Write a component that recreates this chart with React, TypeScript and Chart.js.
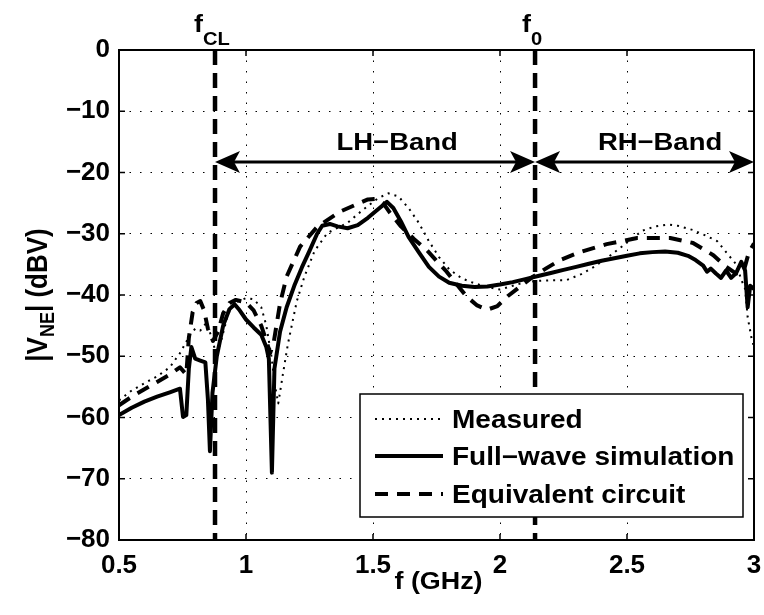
import React, { useEffect, useRef } from "react";
import { Chart, registerables } from "chart.js";

Chart.register(...registerables);

// ---------------- data ----------------
const xMeasured = [0.5, 0.55, 0.6, 0.65, 0.7, 0.74, 0.76, 0.78, 0.8, 0.82, 0.845, 0.865, 0.885, 0.905, 0.93, 0.96, 1.0, 1.03, 1.06, 1.08, 1.1, 1.115, 1.127, 1.145, 1.165, 1.2, 1.23, 1.27, 1.32, 1.4, 1.46, 1.52, 1.56, 1.6, 1.64, 1.68, 1.72, 1.76, 1.8, 1.85, 1.9, 1.95, 2.0, 2.05, 2.1, 2.15, 2.2, 2.26, 2.32, 2.37, 2.42, 2.47, 2.52, 2.56, 2.61, 2.66, 2.7, 2.76, 2.81, 2.855, 2.9, 2.93, 2.95, 2.965, 2.975, 2.99, 3.0];
const yMeasured = [-57.2, -55.6, -54.4, -53.3, -51.8, -49.5, -48, -46.5, -45.5, -45.8, -44.5, -47, -50, -47, -43, -41.2, -40.5, -40.7, -42, -45, -50, -55, -57.7, -53, -48, -41, -37, -32.8, -29.9, -28.2, -26.1, -24.2, -23.4, -23.9, -25.8, -28.2, -31.2, -33.8, -35.8, -37.3, -38.1, -38.7, -39.1, -38.5, -37.9, -37.7, -37.6, -37.6, -36.6, -35.4, -34, -32.4, -30.8, -29.5, -28.8, -28.5, -28.7, -29.4, -30.3, -31.2, -33.5, -35, -37.5, -39, -43.6, -47, -48.5];

const xFullWave = [0.5, 0.55, 0.6, 0.65, 0.7, 0.74, 0.752, 0.765, 0.775, 0.785, 0.8, 0.82, 0.84, 0.85, 0.858, 0.868, 0.885, 0.91, 0.935, 0.955, 0.975, 1.0, 1.03, 1.06, 1.08, 1.09, 1.102, 1.112, 1.134, 1.16, 1.19, 1.22, 1.25, 1.28, 1.3, 1.33, 1.36, 1.4, 1.44, 1.48, 1.52, 1.555, 1.58, 1.61, 1.64, 1.68, 1.72, 1.76, 1.8, 1.85, 1.9, 1.95, 2.0, 2.05, 2.1, 2.15, 2.2, 2.25, 2.3, 2.35, 2.4, 2.45, 2.5, 2.55, 2.6, 2.65, 2.7, 2.74, 2.77, 2.8, 2.815, 2.83, 2.85, 2.87, 2.89, 2.91, 2.93, 2.95, 2.965, 2.975, 2.985, 3.0];
const yFullWave = [-59.6, -58.4, -57.4, -56.6, -55.9, -55.3, -59.9, -59.6, -52, -48.5, -50.4, -50.7, -51, -57, -65.5, -56, -50, -45, -42.3, -41.5, -42.5, -44, -45.3, -46.5, -48.5, -50.4, -69, -52, -46, -42, -38.5, -35.5, -32.8, -30, -28.7, -28.4, -28.8, -29.1, -28.6, -27.4, -26, -24.8, -25.8, -28, -30.5, -33, -35.4, -37, -38, -38.5, -38.7, -38.6, -38.3, -37.9, -37.4, -36.9, -36.4, -35.9, -35.4, -34.9, -34.4, -34, -33.6, -33.2, -33, -32.9, -33.1, -33.6, -34.3, -35.2, -36.2, -35.7, -36.5, -37.2, -36, -37.2, -36.4, -34.6, -36, -42, -38.5, -39];

const xCircuit = [0.5, 0.55, 0.6, 0.65, 0.7, 0.74, 0.765, 0.775, 0.79, 0.805, 0.82, 0.835, 0.85, 0.87, 0.89, 0.91, 0.935, 0.96, 1.0, 1.03, 1.06, 1.08, 1.095, 1.11, 1.134, 1.16, 1.213, 1.28, 1.37, 1.43, 1.48, 1.515, 1.54, 1.567, 1.61, 1.66, 1.71, 1.75, 1.79, 1.83, 1.87, 1.91, 1.95, 1.99, 2.03, 2.08, 2.13, 2.18, 2.236, 2.315, 2.42, 2.54, 2.67, 2.76, 2.84, 2.89, 2.93, 2.96, 2.98, 3.0];
const yCircuit = [-58, -56.6, -55.4, -54.2, -53, -51.8, -53, -47, -42.8, -41.3, -41, -42.5, -45.5, -47.5, -46, -43, -41.3, -40.8, -41.2, -42.5, -45, -47.5, -49.5, -47.5, -41.4, -37, -32.1, -28.9, -26.4, -25.3, -24.4, -24.3, -25, -26.6, -28.8, -30.8, -32.6, -34.4, -36.2, -38.3, -40.3, -41.7, -42.4, -41.8, -40.2, -38.6, -37, -35.7, -34.3, -33, -31.7, -30.7, -30.7, -31.5, -33.5, -35.4, -36.5, -36, -33, -31.6];

const seriesNames = ["Measured", "Full\u2212wave simulation", "Equivalent circuit"];

const xTicks = [0.5, 1, 1.5, 2, 2.5, 3];
const xTickLabels = ["0.5", "1", "1.5", "2", "2.5", "3"];
const yTicks = [0, -10, -20, -30, -40, -50, -60, -70, -80];
const yTickLabels = ["0", "\u221210", "\u221220", "\u221230", "\u221240", "\u221250", "\u221260", "\u221270", "\u221280"];

const xTitle = "f (GHz)";
const yTitleParts = ["|V", "NE", "| (dBV)"];

const fCL = 0.878;
const f0 = 2.138;
const fEnd = 3.0;
const bandArrowLevel = -18.3;
const bandLabels = ["LH\u2212Band", "RH\u2212Band"];
const bandLabelX = [1.595, 2.63];
const bandLabelLevel = -16.3;
const freqMarkerLabels = [["f", "CL"], ["f", "0"]];

// ---------------- helpers ----------------
const FONT = '"Liberation Sans", Arial, Helvetica, sans-serif';
const SX = 1.12; // horizontal text stretch

const pts = (xs: number[], ys: number[]) => xs.map((x, i) => ({ x, y: ys[i] }));

function setFont(ctx: CanvasRenderingContext2D, size: number) {
  ctx.font = `bold ${size}px ${FONT}`;
}

function textW(ctx: CanvasRenderingContext2D, s: string, size: number) {
  setFont(ctx, size);
  return ctx.measureText(s).width * SX;
}

function drawText(ctx: CanvasRenderingContext2D, s: string, x: number, y: number, size: number, align = "left") {
  const w = textW(ctx, s, size);
  const x0 = align === "center" ? x - w / 2 : align === "right" ? x - w : x;
  ctx.save();
  setFont(ctx, size);
  ctx.translate(x0, y);
  ctx.scale(SX, 1);
  ctx.textAlign = "left";
  ctx.textBaseline = "alphabetic";
  ctx.fillStyle = "#000";
  ctx.fillText(s, 0, 0);
  ctx.restore();
  return w;
}

function arrowHead(ctx: CanvasRenderingContext2D, tipX: number, y: number, dir: number) {
  const L = 25, W = 11, N = 19;
  ctx.beginPath();
  ctx.moveTo(tipX, y);
  ctx.lineTo(tipX - dir * L, y - W);
  ctx.lineTo(tipX - dir * N, y);
  ctx.lineTo(tipX - dir * L, y + W);
  ctx.closePath();
  ctx.fill();
}

function doubleArrow(ctx: CanvasRenderingContext2D, x1: number, x2: number, y: number) {
  ctx.save();
  ctx.strokeStyle = "#000";
  ctx.fillStyle = "#000";
  ctx.lineWidth = 3;
  ctx.setLineDash([]);
  ctx.beginPath();
  ctx.moveTo(x1 + 10, y);
  ctx.lineTo(x2 - 10, y);
  ctx.stroke();
  arrowHead(ctx, x1, y, -1);
  arrowHead(ctx, x2, y, 1);
  ctx.restore();
}

const annotPlugin = {
  id: "annotations",
  afterDraw(chart: any) {
    const ctx: CanvasRenderingContext2D = chart.ctx;
    const a = chart.chartArea;
    const xs = chart.scales.x;
    const ys = chart.scales.y;
    ctx.save();

    // inward tick marks on all four sides
    ctx.strokeStyle = "#000";
    ctx.lineWidth = 1.5;
    ctx.setLineDash([]);
    const tl = 6;
    ctx.beginPath();
    xTicks.forEach((v) => {
      const px = xs.getPixelForValue(v);
      ctx.moveTo(px, a.bottom); ctx.lineTo(px, a.bottom - tl);
      ctx.moveTo(px, a.top); ctx.lineTo(px, a.top + tl);
    });
    yTicks.forEach((v) => {
      const py = ys.getPixelForValue(v);
      ctx.moveTo(a.left, py); ctx.lineTo(a.left + tl, py);
      ctx.moveTo(a.right, py); ctx.lineTo(a.right - tl, py);
    });
    ctx.stroke();

    // vertical dashed frequency markers
    const markers = [fCL, f0];
    ctx.lineWidth = 4.5;
    ctx.setLineDash([15, 8]);
    markers.forEach((f) => {
      const px = xs.getPixelForValue(f);
      ctx.beginPath();
      ctx.moveTo(px, a.top);
      ctx.lineTo(px, a.bottom);
      ctx.stroke();
    });
    ctx.setLineDash([]);

    // marker labels f_CL, f_0
    markers.forEach((f, i) => {
      const px = xs.getPixelForValue(f);
      const [main, sub] = freqMarkerLabels[i];
      const w = textW(ctx, main, 24) + textW(ctx, sub, 18);
      let x = px - w / 2 - 3;
      x += drawText(ctx, main, x, a.top - 18, 24);
      drawText(ctx, sub, x, a.top - 5, 18);
    });

    // band arrows
    const yA = ys.getPixelForValue(bandArrowLevel);
    doubleArrow(ctx, xs.getPixelForValue(fCL), xs.getPixelForValue(f0), yA);
    doubleArrow(ctx, xs.getPixelForValue(f0), xs.getPixelForValue(fEnd), yA);
    bandLabels.forEach((s, i) => {
      drawText(ctx, s, xs.getPixelForValue(bandLabelX[i]), ys.getPixelForValue(bandLabelLevel), 24.5, "center");
    });

    // axes box
    ctx.strokeStyle = "#000";
    ctx.lineWidth = 2;
    ctx.strokeRect(a.left, a.top, a.right - a.left, a.bottom - a.top);

    // x title
    drawText(ctx, xTitle, (a.left + a.right) / 2 + 2, a.bottom + 49, 24, "center");

    // y title (rotated, with subscript)
    ctx.save();
    const cy = (a.top + a.bottom) / 2;
    ctx.translate(a.left - 72, cy);
    ctx.scale(SX, 1);
    ctx.rotate(-Math.PI / 2);
    ctx.fillStyle = "#000";
    ctx.textBaseline = "alphabetic";
    ctx.textAlign = "left";
    const sizes = [26, 18, 26];
    const offs = [0, 6, 0];
    let tw = 0;
    yTitleParts.forEach((p, i) => { setFont(ctx, sizes[i]); tw += ctx.measureText(p).width; });
    let tx = -tw / 2;
    yTitleParts.forEach((p, i) => {
      setFont(ctx, sizes[i]);
      ctx.fillText(p, tx, offs[i]);
      tx += ctx.measureText(p).width;
    });
    ctx.restore();

    // legend
    const bw = 383, bh = 123;
    const bx = a.right - 11 - bw;
    const by = a.bottom - 23 - bh;
    ctx.fillStyle = "#fff";
    ctx.fillRect(bx, by, bw, bh);
    ctx.strokeStyle = "#000";
    ctx.lineWidth = 1.5;
    ctx.strokeRect(bx, by, bw, bh);
    const rowY = [25, 62, 100];
    chart.data.datasets.forEach((ds: any, i: number) => {
      const y = by + rowY[i];
      ctx.save();
      ctx.strokeStyle = ds.borderColor;
      ctx.lineWidth = ds.borderWidth;
      ctx.setLineDash(ds.borderDash || []);
      ctx.beginPath();
      ctx.moveTo(bx + 15, y);
      ctx.lineTo(bx + 83, y);
      ctx.stroke();
      ctx.restore();
      drawText(ctx, ds.label, bx + 92, y + 9, 25);
    });

    ctx.restore();
  },
};

export default function App() {
  const ref = useRef<HTMLCanvasElement>(null);
  useEffect(() => {
    if (!ref.current) return;
    const chart = new Chart(ref.current, {
      type: "line",
      data: {
        datasets: [
          { label: seriesNames[0], data: pts(xMeasured, yMeasured), borderColor: "#000", borderWidth: 2, borderDash: [2, 5], pointRadius: 0, tension: 0, fill: false, borderJoinStyle: "round" },
          { label: seriesNames[1], data: pts(xFullWave, yFullWave), borderColor: "#000", borderWidth: 4, pointRadius: 0, tension: 0, fill: false, borderJoinStyle: "round" },
          { label: seriesNames[2], data: pts(xCircuit, yCircuit), borderColor: "#000", borderWidth: 4, borderDash: [13, 9], pointRadius: 0, tension: 0, fill: false, borderJoinStyle: "round" },
        ],
      } as any,
      options: {
        responsive: false,
        animation: false,
        events: [],
        layout: { padding: { top: 50, right: 10, left: 0, bottom: 0 } },
        plugins: { legend: { display: false }, tooltip: { enabled: false } },
        scales: {
          x: {
            type: "linear",
            min: 0.5,
            max: 3,
            afterFit: (s: any) => { s.height = 75; s.paddingLeft = 0; s.paddingRight = 0; },
            afterBuildTicks: (s: any) => { s.ticks = xTicks.map((v) => ({ value: v })); },
            ticks: {
              padding: 10,
              color: "#000",
              font: { family: FONT, size: 26, weight: "bold" },
              maxRotation: 0,
              callback: (v: any) => {
                const i = xTicks.findIndex((t) => Math.abs(t - Number(v)) < 1e-9);
                return i >= 0 ? xTickLabels[i] : "";
              },
            },
            grid: { color: "#000", lineWidth: 1, drawTicks: false },
            border: { display: false, dash: [1.5, 9] },
          },
          y: {
            type: "linear",
            min: -80,
            max: 0,
            afterFit: (s: any) => { s.width = 119; s.paddingTop = 0; s.paddingBottom = 0; },
            afterBuildTicks: (s: any) => { s.ticks = yTicks.map((v) => ({ value: v })); },
            ticks: {
              padding: 9,
              color: "#000",
              font: { family: FONT, size: 26, weight: "bold" },
              callback: (v: any) => {
                const i = yTicks.findIndex((t) => Math.abs(t - Number(v)) < 1e-9);
                return i >= 0 ? yTickLabels[i] : "";
              },
            },
            grid: { color: "#000", lineWidth: 1, drawTicks: false },
            border: { display: false, dash: [1.5, 9] },
          },
        },
      } as any,
      plugins: [annotPlugin],
    });
    return () => chart.destroy();
  }, []);
  return (
    <div style={{ position: "absolute", left: 0, top: 0, width: 764, height: 615, background: "#fff" }}>
      <canvas ref={ref} width={764} height={615} style={{ display: "block" }} />
    </div>
  );
}
